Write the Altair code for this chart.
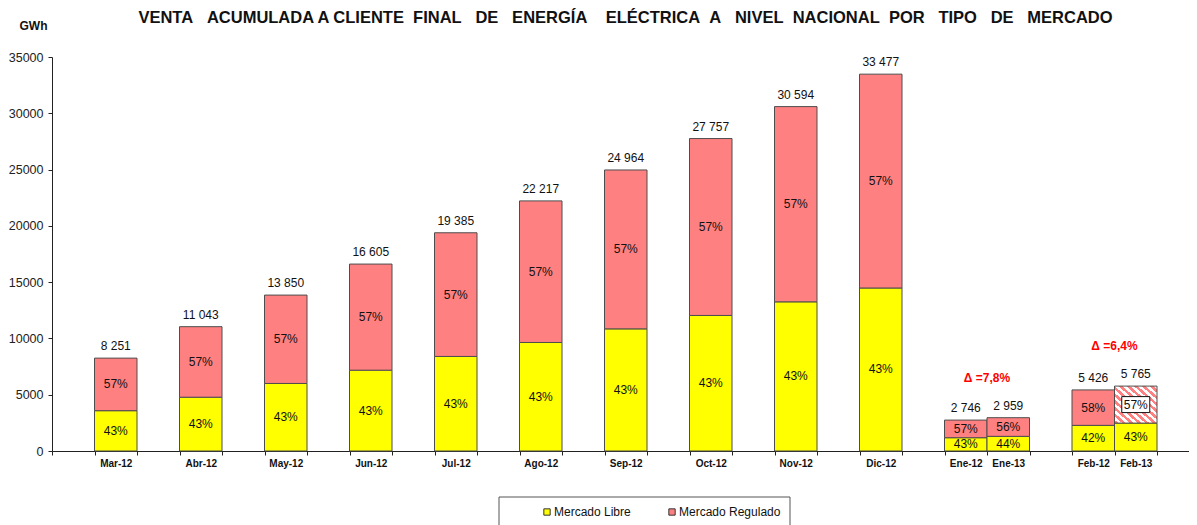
import altair as alt
import pandas as pd

# ---------------- data ----------------
categories = ["Mar-12", "Abr-12", "May-12", "Jun-12", "Jul-12", "Ago-12", "Sep-12",
              "Oct-12", "Nov-12", "Dic-12", "Ene-12", "Ene-13", "Feb-12", "Feb-13"]
totals = [8251, 11043, 13850, 16605, 19385, 22217, 24964, 27757, 30594, 33477,
          2746, 2959, 5426, 5765]
libre = [3580, 4780, 6000, 7180, 8400, 9640, 10850, 12040, 13250, 14480,
         1181, 1302, 2279, 2479]
regulado = [4671, 6263, 7850, 9425, 10985, 12577, 14114, 15717, 17344, 18997,
            1565, 1657, 3147, 3286]
pct_libre = ["43%"] * 10 + ["43%", "44%", "42%", "43%"]
pct_regulado = ["57%"] * 10 + ["57%", "56%", "58%", "57%"]
series = ["Mercado Libre", "Mercado Regulado"]
delta_first = ["Ene-12", "Feb-12"]
delta_second = ["Ene-13", "Feb-13"]
delta_text = ["\u0394 =7,8%", "\u0394 =6,4%"]
hatched_cat = "Feb-13"
hatched_series = "Mercado Regulado"
title_text = ("VENTA\u00a0\u00a0\u00a0ACUMULADA A CLIENTE\u00a0\u00a0FINAL\u00a0\u00a0\u00a0DE\u00a0\u00a0\u00a0"
              "ENERG\u00cdA\u00a0\u00a0\u00a0\u00a0EL\u00c9CTRICA\u00a0\u00a0A\u00a0\u00a0\u00a0NIVEL\u00a0\u00a0"
              "NACIONAL\u00a0\u00a0POR\u00a0\u00a0\u00a0TIPO\u00a0\u00a0\u00a0DE\u00a0\u00a0\u00a0MERCADO")

# ---------------- band slots (monthly bars with gaps, paired bars adjacent) ----------------
slots = ["_0"]
for c in categories[:10]:
    slots.append(c)
    slots.append("_%d" % len(slots))
slots += [categories[10], categories[11], "_%d" % (len(slots) + 2)]
slots += [categories[12], categories[13], "_%d" % (len(slots) + 2)]

rows = []
for c, t, l, r, pl, pr in zip(categories, totals, libre, regulado, pct_libre, pct_regulado):
    rows.append(dict(cat=c, mercado=series[0], y0=0, y1=l, ymid=l / 2, pct=pl, total=t,
                     tlabel="", hatch=False))
    rows.append(dict(cat=c, mercado=series[1], y0=l, y1=l + r, ymid=l + r / 2, pct=pr, total=t,
                     tlabel=f"{t:,}".replace(",", " "),
                     hatch=(c == hatched_cat and series[1] == hatched_series)))
df = pd.DataFrame(rows)

tot_map = dict(zip(categories, totals))
ddf = pd.DataFrame(dict(cat=delta_first, text=delta_text,
                        ytop=[max(tot_map[a], tot_map[b]) for a, b in zip(delta_first, delta_second)]))

FONT = "Liberation Sans"
W_PLOT = 1137          # visible plot width (page must not exceed the window)
X_RANGE = 1147.5       # band range runs slightly past the visible right edge, like the reference

xscale = alt.Scale(domain=slots, paddingInner=0, paddingOuter=0, range=[0, X_RANGE])
yscale = alt.Scale(domain=[0, 35000], nice=False)

x_axis = alt.Axis(title=None, labelExpr="indexof(datum.label, '_') == 0 ? '' : datum.label",
                  labelAngle=0, labelFont=FONT, labelFontSize=10, labelFontWeight="bold",
                  labelColor="#111", tickBand="extent", tickSize=4, tickColor="#222",
                  domainColor="#222", labelPadding=3, labelBound=False, labelOverlap=False)
y_axis = alt.Axis(title="GWh", titleAngle=0, titleX=-19, titleY=-28, titleAlign="center",
                  titleBaseline="alphabetic", titleFont=FONT, titleFontSize=12,
                  titleFontWeight="bold", titleColor="#111",
                  values=[0, 5000, 10000, 15000, 20000, 25000, 30000, 35000], format="d",
                  labelFont=FONT, labelFontSize=12.5, labelColor="#222", tickSize=4,
                  tickColor="#222", domainColor="#222", labelPadding=5, grid=False)


def X(**kw):
    return alt.X("cat:N", scale=xscale, axis=x_axis, sort=slots, **kw)


def Y(field):
    return alt.Y(field, scale=yscale, axis=y_axis)


base = alt.Chart(df)

legend_box = alt.Chart(alt.Data(values=[{"k": 1}])).mark_rect(
    fill="white", stroke="#555", strokeWidth=1
).encode(x=alt.value(447), x2=alt.value(738), y=alt.value(440), y2=alt.value(520))

bars = base.transform_filter("!datum.hatch").mark_bar(stroke="#4d4d4d", strokeWidth=1).encode(
    x=X(),
    y=Y("y0:Q"),
    y2="y1:Q",
    color=alt.Color("mercado:N",
                    scale=alt.Scale(domain=series, range=["#FFFF00", "#FF8080"]),
                    legend=alt.Legend(title=None, orient="none", legendX=489, legendY=449,
                                      direction="horizontal", symbolType="square",
                                      symbolSize=40, symbolStrokeColor="#333",
                                      symbolStrokeWidth=1, labelFont=FONT, labelFontSize=12,
                                      labelColor="#111", columnPadding=35, labelOffset=1,
                                      padding=0, zindex=1)),
)

pink = "#FF8080"
N = 11
stops = []
for i in range(N):
    a, b, c = i / N, (i + 0.5) / N, (i + 1) / N
    stops += [{"offset": a, "color": pink}, {"offset": b, "color": pink},
              {"offset": b, "color": "#FFFFFF"}, {"offset": c, "color": "#FFFFFF"}]
gradient = {"gradient": "linear", "x1": 0, "y1": 1, "x2": 1, "y2": 0, "stops": stops}

hatch = base.transform_filter("datum.hatch").mark_bar(
    fill=gradient, stroke="#4d4d4d", strokeWidth=1
).encode(x=X(), y=Y("y0:Q"), y2="y1:Q")

label_box = base.transform_filter("datum.hatch").mark_point(
    shape="M-1,-0.571L1,-0.571L1,0.571L-1,0.571Z", size=784, filled=True,
    fill="white", stroke="#111", strokeWidth=1, opacity=1
).encode(x=X(), y=Y("ymid:Q"))

pct_text = base.mark_text(font=FONT, fontSize=12, color="#111", baseline="middle").encode(
    x=X(), y=Y("ymid:Q"), text="pct:N",
)

tot_text = base.transform_filter("datum.tlabel != ''").mark_text(
    font=FONT, fontSize=12, color="#111", baseline="alphabetic", dy=-8
).encode(x=X(), y=Y("total:Q"), text="tlabel:N")

delta = alt.Chart(ddf).mark_text(
    font=FONT, fontSize=12, fontWeight="bold", color="#FF0000", baseline="middle", dy=-40
).encode(x=X(bandPosition=1), y=Y("ytop:Q"), text="text:N")

chart = alt.layer(legend_box, bars, hatch, label_box, pct_text, tot_text, delta).properties(
    width=W_PLOT, height=394,
    title=alt.TitleParams(title_text, font=FONT, fontSize=16.5, fontWeight="bold",
                          color="#111", anchor="middle", offset=-7, dx=5),
    autosize=alt.AutoSizeParams(type="none"),
    padding={"left": 44, "top": 49, "right": 0, "bottom": 74},
    background="white",
).configure_view(stroke="transparent", strokeWidth=0)

chart.save("out.html", embed_options={"renderer": "svg", "actions": False})
